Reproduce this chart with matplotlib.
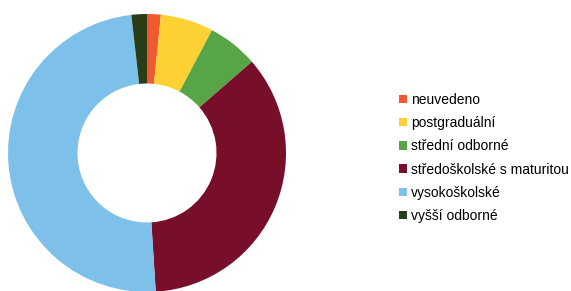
import matplotlib.pyplot as plt
from matplotlib.patches import Patch

plt.rcParams['font.family'] = ['Liberation Sans', 'DejaVu Sans']

labels = ['neuvedeno', 'postgraduální', 'střední odborné',
          'středoškolské s maturitou', 'vysokoškolské', 'vyšší odborné']
values = [1.6, 6.15, 5.85, 35.4, 49.2, 1.8]
colors = ['#F15A31', '#FDD134', '#57A546', '#770E2A', '#7DC1EA', '#293D17']

fig = plt.figure(figsize=(5.71, 2.91), dpi=100)
ax = fig.add_axes([8 / 571, -1 / 291, 278 / 571, 278 / 291])
ax.pie(values, colors=colors, startangle=90, counterclock=False,
       radius=1.0, wedgeprops=dict(width=0.5, linewidth=0))
ax.set_aspect('equal')
ax.set_xlim(-1, 1)
ax.set_ylim(-1, 1)
ax.axis('off')

handles = [Patch(facecolor=c, edgecolor='none') for c in colors]
fig.legend(handles, labels, loc='upper left', bbox_to_anchor=(399 / 571, 1 - 93 / 291),
           frameon=False, fontsize=10, handlelength=0.55, handleheight=0.55,
           handletextpad=0.3, labelspacing=0.66, borderaxespad=0, borderpad=0)

fig.savefig('out.png', dpi=100)
